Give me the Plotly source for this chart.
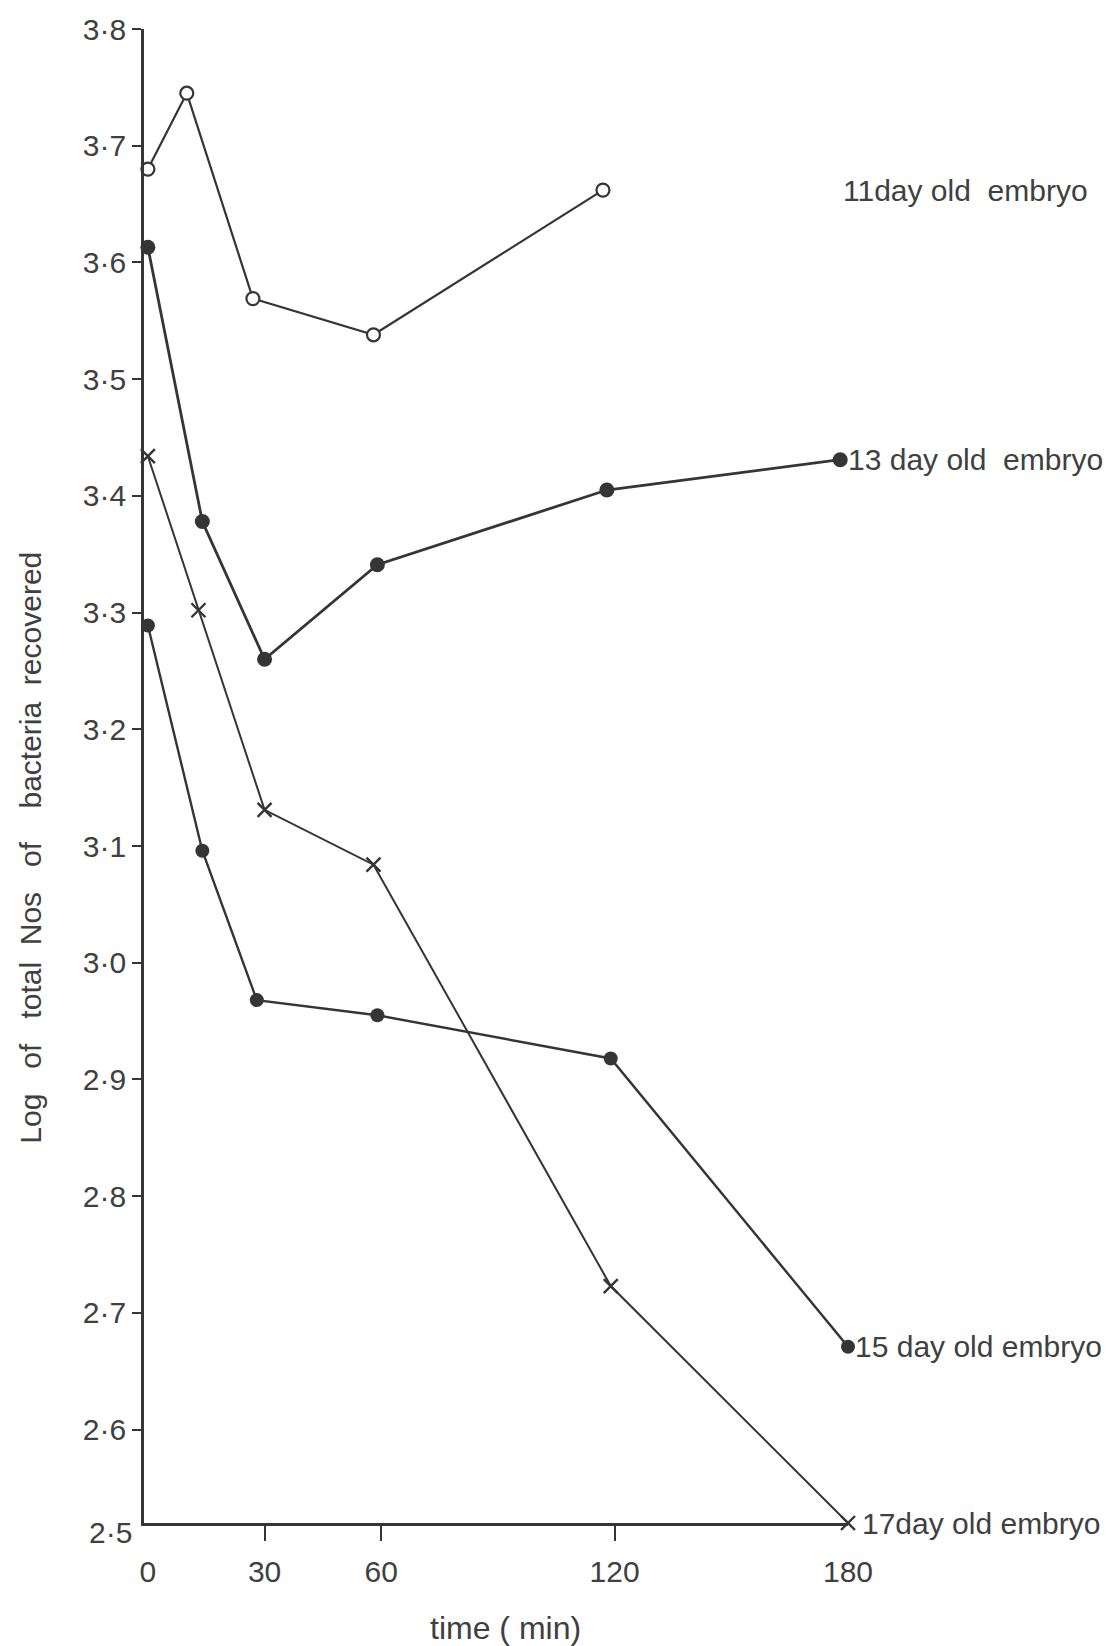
import plotly.graph_objects as go

# ---- data ----
t11 = [0, 10, 27, 58, 117]
v11 = [3.680, 3.745, 3.569, 3.538, 3.662]

t13 = [0, 14, 30, 59, 118, 178]
v13 = [3.613, 3.378, 3.260, 3.341, 3.405, 3.431]

t15 = [0, 14, 28, 59, 119, 180]
v15 = [3.289, 3.096, 2.968, 2.955, 2.918, 2.671]

t17 = [0, 13, 30, 58, 119, 180]
v17 = [3.434, 3.302, 3.131, 3.084, 2.723, 2.520]

series_labels = ["11day old\u00a0 embryo", "13 day old\u00a0 embryo",
                 "15 day old embryo", "17day old embryo"]

x_ticks = [0, 30, 60, 120, 180]
x_ticktext = ["0", "30", "60", "120", "180"]
x_tickmarks = [30, 60, 120]
y_ticks = [2.6, 2.7, 2.8, 2.9, 3.0, 3.1, 3.2, 3.3, 3.4, 3.5, 3.6, 3.7, 3.8]
y_ticktext = ["2\u00b76", "2\u00b77", "2\u00b78", "2\u00b79", "3\u00b70", "3\u00b71", "3\u00b72",
              "3\u00b73", "3\u00b74", "3\u00b75", "3\u00b76", "3\u00b77", "3\u00b78"]
y_bottom_label = "2\u00b75"

ink = "#353535"
txt = "#404040"
font_family = "Liberation Sans, Arial, sans-serif"

fig = go.Figure()

fig.add_trace(go.Scatter(
    x=t11, y=v11, mode="lines+markers", cliponaxis=False,
    line=dict(color=ink, width=2.2),
    marker=dict(symbol="circle", size=13, color="white", line=dict(color=ink, width=2.2)),
))
fig.add_trace(go.Scatter(
    x=t13, y=v13, mode="lines+markers", cliponaxis=False,
    line=dict(color=ink, width=2.8),
    marker=dict(symbol="circle", size=15, color=ink),
))
fig.add_trace(go.Scatter(
    x=t15, y=v15, mode="lines+markers", cliponaxis=False,
    line=dict(color=ink, width=2.4),
    marker=dict(symbol="circle", size=14, color=ink),
))
fig.add_trace(go.Scatter(
    x=t17, y=v17, mode="lines+markers", cliponaxis=False,
    line=dict(color=ink, width=2.0),
    marker=dict(symbol="x-thin", size=14, color=ink, line=dict(color=ink, width=2.4)),
))
# carrier for the labelled time axis (draws nothing)
fig.add_trace(go.Scatter(
    x=x_ticks, y=[None] * len(x_ticks), xaxis="x2", mode="markers",
    hoverinfo="skip", showlegend=False,
))

annotations = []
lab_font = dict(size=30, color=txt, family=font_family)
annotations.append(dict(xref="paper", yref="y", x=0.99, y=v11[-1], text=series_labels[0],
                        xanchor="left", yanchor="middle", showarrow=False, font=lab_font))
annotations.append(dict(xref="x", yref="y", x=t13[-1], y=v13[-1], text=series_labels[1],
                        xanchor="left", yanchor="middle", showarrow=False, xshift=6, font=lab_font))
annotations.append(dict(xref="x", yref="y", x=t15[-1], y=v15[-1], text=series_labels[2],
                        xanchor="left", yanchor="middle", showarrow=False, xshift=5, font=lab_font))
annotations.append(dict(xref="x", yref="y", x=t17[-1], y=v17[-1], text=series_labels[3],
                        xanchor="left", yanchor="middle", showarrow=False, xshift=12, font=lab_font))
# bottom y label at the axis corner
annotations.append(dict(xref="paper", yref="y", x=0, y=2.52, text=y_bottom_label,
                        xanchor="right", yanchor="middle", showarrow=False, xshift=-10, yshift=-9,
                        font=dict(size=30, color=txt, family=font_family)))
# axis titles
sp = "\u00a0\u00a0 "
annotations.append(dict(xref="paper", yref="paper", x=-0.1605, y=0.452,
                        text="Log" + sp + "of" + sp + "total" + "\u00a0 " + "Nos" + sp + "of" + sp
                             + "\u00a0bacteria" + "\u00a0 " + "recovered",
                        textangle=-90, xanchor="center", yanchor="middle", showarrow=False,
                        font=dict(size=30, color=txt, family=font_family)))
annotations.append(dict(xref="paper", yref="paper", x=0.513, y=-0.070, text="time ( min)",
                        xanchor="center", yanchor="middle", showarrow=False,
                        font=dict(size=32, color=txt, family=font_family)))

fig.update_layout(
    width=1112, height=1646, autosize=False,
    margin=dict(l=144, r=264, t=24, b=123, pad=0),
    paper_bgcolor="white", plot_bgcolor="white",
    showlegend=False,
    font=dict(family=font_family, color=txt),
    annotations=annotations,
    xaxis=dict(range=[-1, 180], showline=True, linecolor=ink, linewidth=2.8,
               tickvals=x_tickmarks, ticks="outside", ticklen=15, tickwidth=2.4, tickcolor=ink,
               showticklabels=False, showgrid=False, zeroline=False),
    xaxis2=dict(range=[-1, 180], overlaying="x", anchor="y", side="bottom",
                tickvals=x_ticks, ticktext=x_ticktext, ticks="", ticklabelstandoff=28,
                showline=False, showgrid=False, zeroline=False,
                tickfont=dict(size=30, color=txt, family=font_family)),
    yaxis=dict(range=[2.52, 3.8], showline=True, linecolor=ink, linewidth=2.8,
               tickvals=y_ticks, ticktext=y_ticktext, ticks="outside", ticklen=9,
               tickwidth=2.4, tickcolor=ink, showgrid=False, zeroline=False,
               tickfont=dict(size=30, color=txt, family=font_family)),
)

fig.write_html("out.html")
